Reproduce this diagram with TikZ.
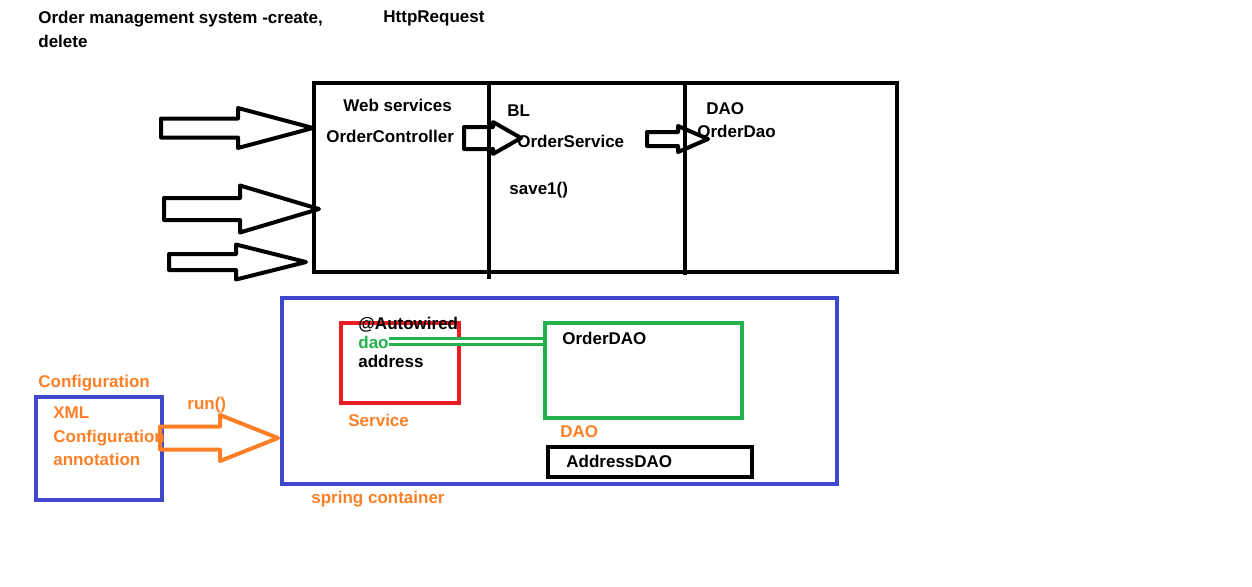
\documentclass[tikz,border=0pt]{standalone}
\usepackage{fontspec}
\setmainfont{Liberation Sans}
\usepackage{xcolor}
\usepackage{tikz}
\usetikzlibrary{calc,positioning}
\definecolor{pblue}{RGB}{63,72,204}
\definecolor{pred}{RGB}{237,28,36}
\definecolor{pgreen}{RGB}{34,177,76}
\definecolor{porange}{RGB}{255,127,39}

\begin{document}
\begin{tikzpicture}[x=0.5pt,y=-0.5pt,font=\fontsize{8.5}{10}\selectfont\bfseries]
    \tikzstyle{txt}=[inner sep=0pt,anchor=base west]
    \tikzstyle{box}=[draw,line width=2pt,inner sep=0pt]
    \tikzstyle{blockarrow}=[draw,line width=2pt,line join=round]
    \useasboundingbox (0,0) rectangle (1252,586);

    % top part
    \node[txt] (title) at (38,23) {Order management system -create,};
    \node[txt] (title2) at (38,47) {delete};
    \node[txt] (http) at (383,22) {HttpRequest};

    \node[box,minimum width=291.5pt,minimum height=94.5pt] (layers) at (605.5,177.5) {};
    \draw[line width=2pt] (489,83) -- (489,279);
    \draw[line width=2pt] (685,83) -- (685,275);

    \node[txt] (ws) at (343,111) {Web services};
    \node[txt] (ctrl) at (326,142) {OrderController};
    \node[txt] (bl) at (507,116) {BL};
    \node[txt] (svc) at (517,147) {OrderService};
    \node[txt] (save) at (509,194) {save1()};
    \node[txt] (dao) at (706,114) {DAO};
    \node[txt] (odao) at (697,137) {OrderDao};

    % block arrows
    \coordinate (in1) at (313,128);
    \coordinate (in2) at (319,209);
    \coordinate (in3) at (306,262);
    \coordinate (bltip) at (521,138);
    \coordinate (daotip) at (708,139);
    \draw[blockarrow] (in1) -- ++(-75,-20) -- ++(0,10.5) -- ++(-77,0) -- ++(0,19) -- ++(77,0) -- ++(0,10.5) -- cycle;
    \draw[blockarrow] (in2) -- ++(-79,-23.5) -- ++(0,12.5) -- ++(-76,0) -- ++(0,22) -- ++(76,0) -- ++(0,12.5) -- cycle;
    \draw[blockarrow] (in3) -- ++(-70,-17.5) -- ++(0,9.5) -- ++(-67,0) -- ++(0,16) -- ++(67,0) -- ++(0,9.5) -- cycle;
    \draw[blockarrow] (bltip) -- ++(-28,-16) -- ++(0,5) -- ++(-29,0) -- ++(0,22) -- ++(29,0) -- ++(0,5) -- cycle;
    \draw[blockarrow] (daotip) -- ++(-30,-13) -- ++(0,6) -- ++(-31,0) -- ++(0,14) -- ++(31,0) -- ++(0,6) -- cycle;

    % spring container
    \node[box,draw=pblue,minimum width=277.5pt,minimum height=93pt] (container) at (559.5,391) {};
    \node[box,draw=pred,minimum width=59pt,minimum height=40pt] (service) at (400,363) {};
    \node[box,draw=pgreen,minimum width=98.5pt,minimum height=47.5pt] (daobox) at (643.5,370.5) {};
    \node[box,minimum width=102pt,minimum height=15pt] (addrbox) at (650,462) {};

    \node[txt] (auto) at (358,329) {@Autowired};
    \node[txt,text=pgreen] (daofield) at (358,348) {dao};
    \node[txt] (addr) at (358,367) {address};
    \node[txt,text=porange] (svclabel) at (348,426) {Service};
    \node[txt] (orderdao) at (562,344) {OrderDAO};
    \node[txt,text=porange] (daolabel) at (560,437) {DAO};
    \node[txt] (addrdao) at (566,467) {AddressDAO};
    \node[txt,text=porange] (spring) at (311,503) {spring container};

    \path (daofield.east) edge [pgreen,line width=1.5pt,double,double distance=1.5pt] (daofield.east -| daobox.west);

    % configuration
    \node[txt,text=porange] (conf) at (38,387) {Configuration};
    \node[box,draw=pblue,minimum width=63pt,minimum height=51.5pt] (confbox) at (99,448.5) {};
    \node[txt,text=porange] (xml) at (53,418) {XML};
    \node[txt,text=porange] (conf2) at (53,442) {Configuration};
    \node[txt,text=porange] (annot) at (53,465) {annotation};
    \node[txt,text=porange] (run) at (187,409) {run()};

    \coordinate (runtip) at (278,438);
    \draw[blockarrow,draw=porange] (runtip) -- ++(-58,-23) -- ++(0,11.5) -- ++(-60,0) -- ++(0,23) -- ++(60,0) -- ++(0,11.5) -- cycle;
\end{tikzpicture}
\end{document}
